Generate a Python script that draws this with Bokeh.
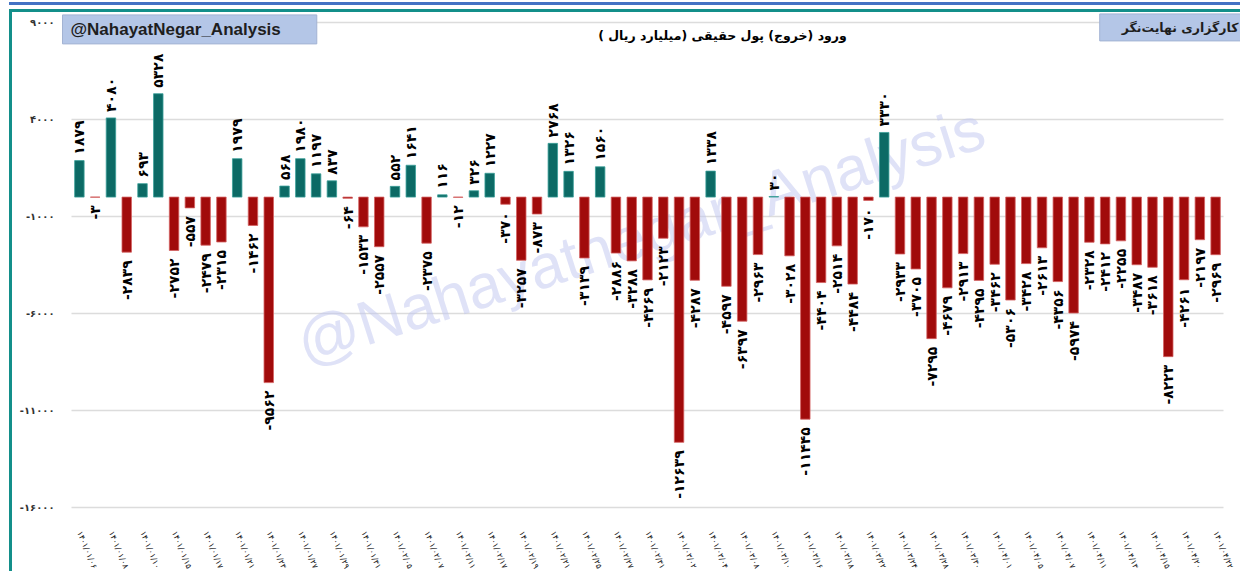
import math
from bokeh.plotting import figure
from bokeh.models import ColumnDataSource, Range1d, FixedTicker, Label
from bokeh.core.properties import value
from bokeh.embed import file_html
from bokeh.resources import INLINE

# ---------------- data ----------------
dates = [
    "01/06", "01/07", "01/08", "01/09", "01/10", "01/14", "01/15", "01/16", "01/17", "01/20",
    "01/21", "01/22", "01/23", "01/24", "01/27", "01/28", "01/29", "01/30", "01/31", "02/04",
    "02/05", "02/06", "02/07", "02/10", "02/11", "02/12", "02/17", "02/18", "02/19", "02/20",
    "02/21", "02/24", "02/25", "02/26", "02/27", "02/28", "02/31", "03/01", "03/02", "03/03",
    "03/04", "03/07", "03/08", "03/09", "03/10", "03/11", "03/16", "03/17", "03/18", "03/21",
    "03/22", "03/23", "03/24", "03/25", "03/28", "03/29", "03/30", "03/31", "04/01", "04/04",
    "04/05", "04/06", "04/07", "04/08", "04/11", "04/12", "04/13", "04/14", "04/15", "04/18",
    "04/20", "04/21", "04/22",
]
flows = [
    1879, -3, 4080, -2839, 693, 5328, -2752, -557, -2479, -2315,
    1979, -1462, -9562, 568, 1980, 1197, 837, -64, -1533, -2557,
    552, 1641, -2375, 116, -12, 326, 1227, -370, -3257, -873,
    2768, 1326, -3139, 1560, -2886, -3288, -4269, -2123, -12639, -4287,
    1338, -4597, -6397, -2963, 30, -3028, -11445, -4404, -2514, -4484,
    -170, 3330, -2933, -3705, -7295, -4679, -2913, -4295, -3462, -5306,
    -3428, -2613, -4356, -5974, -2328, -2412, -2255, -3487, -3618, -8223,
    -4261, -2197, -2969,
]
y_ticks = [9000, 4000, -1000, -6000, -11000, -16000]
year = "1401"
title_text = "ورود (خروج) پول حقیقی (میلیارد ریال )\u200f"
brand_left = "@NahayatNegar_Analysis"
brand_right = "کارگزاری نهایت\u200cنگر"
watermark = "@Nahayatnegar_Analysis"

FA = str.maketrans("0123456789", "۰۱۲۳۴۵۶۷۸۹")


def fa(s):
    return str(s).translate(FA)


def fa_signed(v):
    return ("-" + fa(-v)) if v < 0 else fa(v)


# ---------------- geometry ----------------
Y_LO, Y_HI = -16000, 9000          # value axis extent (gridlines / ticks)
OFF = 12                            # page offset of the canvas (margin 9 + border 3)
PLOT_L, PLOT_T = 71, 22             # page position of the bar area
PLOT_W, PLOT_H = 1152, 488
W, H = 1243 - OFF, 578 - OFF - 4
FRAME_B = PLOT_T + PLOT_H + 8       # frame bottom (page px), a little below -16000
n = len(flows)


# page-pixel -> data helpers (annotations only)
def dx(px):
    return (px - PLOT_L) / PLOT_W * n - 0.5


def dy(py):
    return Y_HI - (py - PLOT_T) / PLOT_H * (Y_HI - Y_LO)


units_per_px = (Y_HI - Y_LO) / PLOT_H

p = figure(width=W, height=H, output_backend="svg", toolbar_location=None,
           x_range=Range1d(dx(OFF), dx(OFF + W)), y_range=Range1d(dy(FRAME_B), dy(OFF)),
           min_border_left=0, min_border_right=0, min_border_top=0,
           min_border_bottom=H - (FRAME_B - OFF),
           background_fill_color="white", border_fill_color="white",
           styles={"margin-top": "9px", "margin-left": "9px",
                   "border-top": "3px solid #138f8a", "border-left": "3px solid #138f8a",
                   "box-shadow": "0 -4px 0 0 #ffffff, 0 -7px 0 0 #4472c4"})
p.outline_line_color = None
p.xgrid.visible = False
p.ygrid.visible = False
p.yaxis.visible = False

# horizontal gridlines across the bar area
p.segment(x0=[-0.5] * len(y_ticks), x1=[n - 0.5] * len(y_ticks), y0=y_ticks, y1=y_ticks,
          line_color="#dcdcdc", line_width=1.5, level="underlay")

# y tick labels
p.text(x=[dx(54)] * len(y_ticks), y=y_ticks, text=[fa_signed(t) for t in y_ticks],
       text_align="right", text_baseline="middle", text_font=value("DejaVu Sans"),
       text_font_style="bold", text_font_size="10px", text_color="#333333")

# watermark (under the bars)
p.add_layout(Label(x=dx(640), y=dy(236), text=watermark, angle=0.31,
                   text_align="center", text_baseline="middle",
                   text_font="Liberation Sans", text_font_size="62px",
                   text_color="#bfc6f0", text_alpha=0.5, level="underlay"))

# bars
xs = list(range(n))
pos_x = [i for i in xs if flows[i] >= 0]
pos_v = [flows[i] for i in xs if flows[i] >= 0]
neg_x = [i for i in xs if flows[i] < 0]
neg_v = [flows[i] for i in xs if flows[i] < 0]

p.vbar(x=pos_x, top=pos_v, bottom=0, width=0.6, fill_color="#0c6a65",
       line_color="#3b9f99", line_width=0.8)
p.vbar(x=neg_x, top=neg_v, bottom=0, width=0.6, fill_color="#a10b0b",
       line_color="#d46262", line_width=0.8)

# value labels
pos_src = ColumnDataSource(dict(x=pos_x, y=[v + 6 * units_per_px for v in pos_v],
                                t=[fa(v) for v in pos_v]))
neg_src = ColumnDataSource(dict(x=neg_x, y=[v - 8 * units_per_px for v in neg_v],
                                t=[fa_signed(v) for v in neg_v]))
for src, align in ((pos_src, "left"), (neg_src, "right")):
    p.text(x="x", y="y", text="t", source=src, angle=math.pi / 2,
           text_align=align, text_baseline="middle",
           text_font=value("DejaVu Sans"), text_font_style="bold",
           text_font_size="14px", text_color="black")

# x axis (dates, every second day)
p.xaxis.ticker = FixedTicker(ticks=list(range(0, n, 2)))
p.xaxis.major_label_overrides = {i: fa(year + "/" + dates[i]) for i in range(0, n, 2)}
p.xaxis.major_label_orientation = -1.18
p.xaxis.major_label_standoff = 10
p.xaxis.major_label_text_font = "DejaVu Sans"
p.xaxis.major_label_text_font_size = "8px"
p.xaxis.major_label_text_color = "#111111"
p.xaxis.axis_line_color = None
p.xaxis.major_tick_line_color = None
p.xaxis.minor_tick_line_color = None

# title and brand boxes
p.add_layout(Label(x=dx(722), y=dy(35), text=title_text, text_align="center",
                   text_baseline="middle", text_font="DejaVu Sans", text_font_style="bold",
                   text_font_size="12.5px", text_color="black"))
p.add_layout(Label(x=dx(62), y=dy(29), text=brand_left, text_align="left",
                   text_baseline="middle", text_font="Liberation Sans", text_font_style="bold",
                   text_font_size="17px", text_color="#1e1e1e",
                   background_fill_color="#b4c6e7", border_line_color="#a3b3d3",
                   padding=dict(left=8, right=36, top=5, bottom=5)))
p.add_layout(Label(x=dx(1244), y=dy(27), text=brand_right, text_align="right",
                   text_baseline="middle", text_font="DejaVu Sans", text_font_style="bold",
                   text_font_size="12.5px", text_color="#1e1e1e",
                   background_fill_color="#b4c6e7", border_line_color="#a3b3d3",
                   padding=dict(left=22, right=6, top=6, bottom=6)))

open("out.html", "w").write(file_html(p, INLINE))
